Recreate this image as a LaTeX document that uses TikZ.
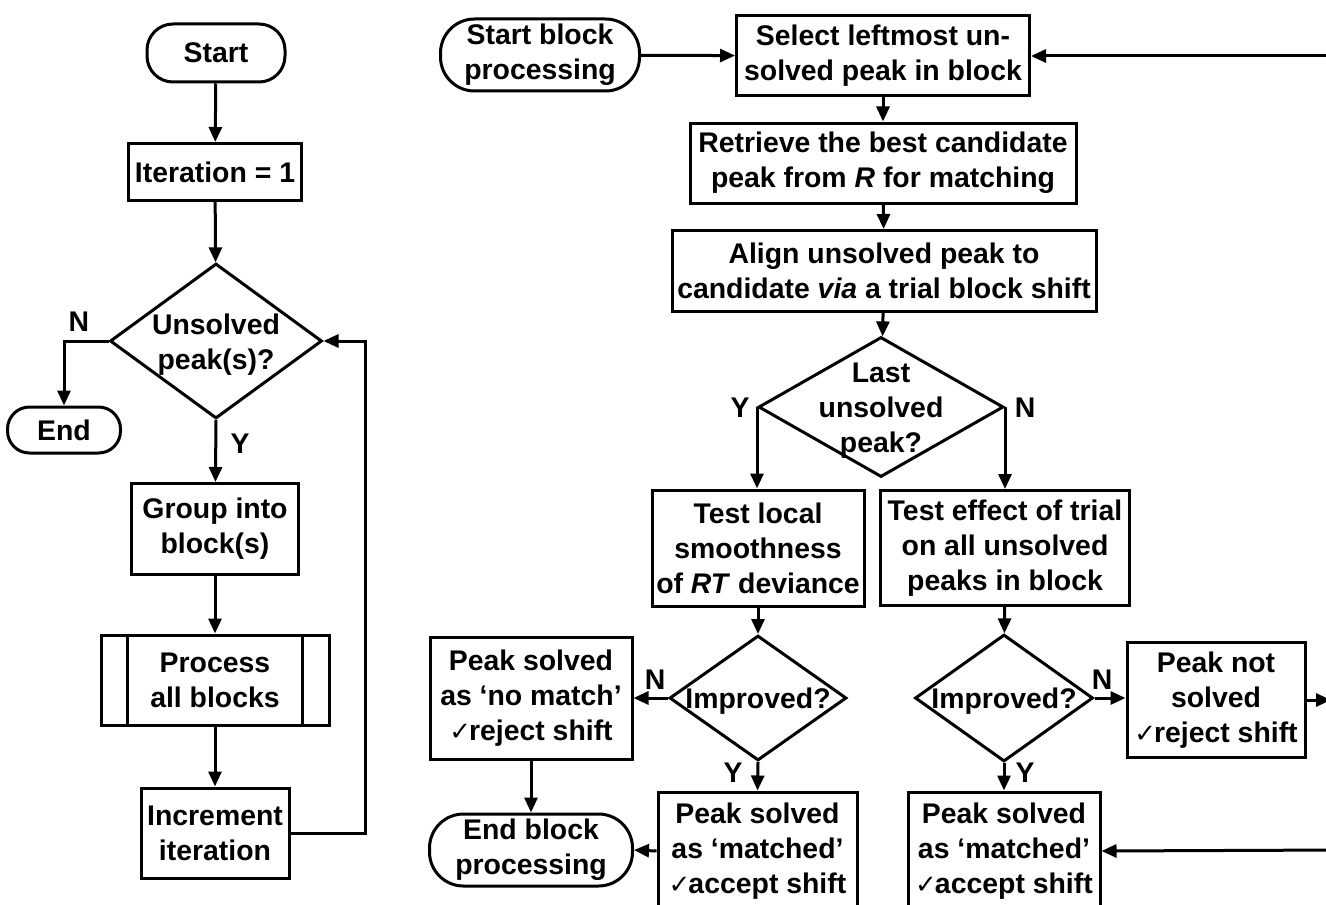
\documentclass[tikz,border=0pt]{standalone}
\usepackage{fontspec}
\setmainfont{Liberation Sans}
\newfontfamily\ckfont{DejaVu Sans}
\usetikzlibrary{shapes.geometric,arrows.meta}

\newcommand{\ck}{{\ckfont\mdseries\fontsize{13}{17.5}\selectfont ✓}\hspace{-1pt}}
\newcommand{\dtext}[1]{\makebox[0pt]{\smash{\raisebox{-5.5pt}{\begin{tabular}{@{}c@{}}#1\end{tabular}}}}}

\begin{document}
\begin{tikzpicture}[x=0.5pt, y=-0.5pt, font=\fontsize{14.2}{17.5}\selectfont\bfseries,
  proc/.style = {draw, rectangle, line width=1.5pt, align=center, inner sep=0pt},
  term/.style = {proc, rounded corners=13pt},
  dec/.style = {draw, diamond, line width=1.5pt, inner sep=0pt},
  flow/.style = {line width=1.5pt, -{Triangle[length=7.5pt, width=6.5pt]}},
  line/.style = {line width=1.5pt}]
\useasboundingbox (0,0) rectangle (1326,904);
\clip (0,0) rectangle (1326,904);

% main loop
\node[term, minimum width=69pt, minimum height=29pt] (start) at (216,53) {Start};
\node[proc, minimum width=86.5pt, minimum height=28.5pt] (iter) at (215,172) {Iteration = 1};
\node[dec, minimum width=106pt, minimum height=77.5pt] (unsol) at (216,341) {\dtext{Unsolved\\peak(s)?}};
\node[term, minimum width=56.5pt, minimum height=23pt, rounded corners=11pt] (endn) at (64,430) {End};
\node[proc, minimum width=83.5pt, minimum height=45.5pt] (group) at (215,529) {Group into\\block(s)};
\node[proc, minimum width=114pt, minimum height=45pt] (procb) at (215,680) {Process\\all blocks};
\node[proc, minimum width=74pt, minimum height=45pt] (incr) at (215,833) {Increment\\iteration};
\coordinate (loop) at (365,341);

\node (n1) at (79,322) {N};
\node (y1) at (240,444) {Y};

\draw[line] ([xshift=14pt]procb.north west) -- ([xshift=14pt]procb.south west);
\draw[line] ([xshift=-14pt]procb.north east) -- ([xshift=-14pt]procb.south east);

\draw[flow] (start) -- (iter);
\draw[flow] (iter) -- (unsol);
\draw[flow] (unsol.west) -| (endn.north);
\draw[flow] (unsol.south) -- (group);
\draw[flow] (group) -- (procb);
\draw[flow] (procb) -- (incr);
\draw[flow] (incr.east) -| (loop) -- (unsol.east);

% block processing
\node[term, minimum width=99.5pt, minimum height=36pt, rounded corners=17pt] (sbp) at (540,55) {Start block\\processing};
\node[proc, minimum width=146.5pt, minimum height=40pt] (sel) at (883,56) {Select leftmost un-\\solved peak in block};
\node[proc, minimum width=193pt, minimum height=40pt] (ret) at (883,163) {Retrieve the best candidate\\peak from \textit{R} for matching};
\node[proc, minimum width=212pt, minimum height=40.5pt] (align) at (884,271) {Align unsolved peak to\\candidate \textit{via} a trial block shift};
\node[dec, minimum width=122.5pt, minimum height=70pt] (last) at (881,407) {\dtext{Last\\unsolved\\peak?}};
\node[proc, minimum width=106pt, minimum height=58pt] (tls) at (758,548) {Test local\\smoothness\\of \textit{RT} deviance};
\node[proc, minimum width=124.5pt, minimum height=57.5pt] (tef) at (1005,548) {Test effect of trial\\on all unsolved\\peaks in block};
\node[dec, minimum width=88.5pt, minimum height=62.5pt] (imp1) at (758,698) {\dtext{Improved?}};
\node[dec, minimum width=89pt, minimum height=63.5pt] (imp2) at (1004,698) {\dtext{Improved?}};
\node[proc, minimum width=101pt, minimum height=61pt] (nomatch) at (531,698) {Peak solved\\as ‘no match’\\\ck reject shift};
\node[proc, minimum width=89pt, minimum height=57.5pt] (notsol) at (1216,700) {Peak not\\solved\\\ck reject shift};
\node[proc, minimum width=99.5pt, minimum height=59pt] (mat1) at (757.5,851) {Peak solved\\as ‘matched’\\\ck accept shift};
\node[proc, minimum width=96pt, minimum height=59pt] (mat2) at (1004,851) {Peak solved\\as ‘matched’\\\ck accept shift};
\node[term, minimum width=101.5pt, minimum height=36pt, rounded corners=17pt] (ebp) at (531,850) {End block\\processing};
\coordinate (r1) at (1340,56);
\coordinate (r2) at (1331,700);
\coordinate (r3) at (1340,850);

\node (y2) at (740,408) {Y};
\node (n2) at (1025,408) {N};
\node (n3) at (655,680) {N};
\node (y3) at (733,773) {Y};
\node (n4) at (1102,680) {N};
\node (y4) at (1025,773) {Y};

\draw[flow] (sbp) -- (sel);
\draw[flow] (r1) -- (sel.east);
\draw[flow] (sel) -- (ret);
\draw[flow] (ret) -- (align);
\draw[flow] (align) -- (last);
\draw[flow] (last.west) -- (last.west |- tls.north);
\draw[flow] (last.east) -- (last.east |- tef.north);
\draw[flow] (tls) -- (imp1);
\draw[flow] (tef) -- (imp2);
\draw[flow] (imp1.west) -- (nomatch.east |- imp1.west);
\draw[flow] (imp1.south) -- (mat1.north);
\draw[flow] (nomatch) -- (ebp);
\draw[flow] (mat1.west) -- (ebp.east);
\draw[flow] (imp2.east) -- (notsol.west |- imp2.east);
\draw[flow] (imp2.south) -- (mat2.north);
\draw[flow] (notsol.east) -- (r2);
\draw[flow] (r3) -- (mat2.east);

\end{tikzpicture}
\end{document}
